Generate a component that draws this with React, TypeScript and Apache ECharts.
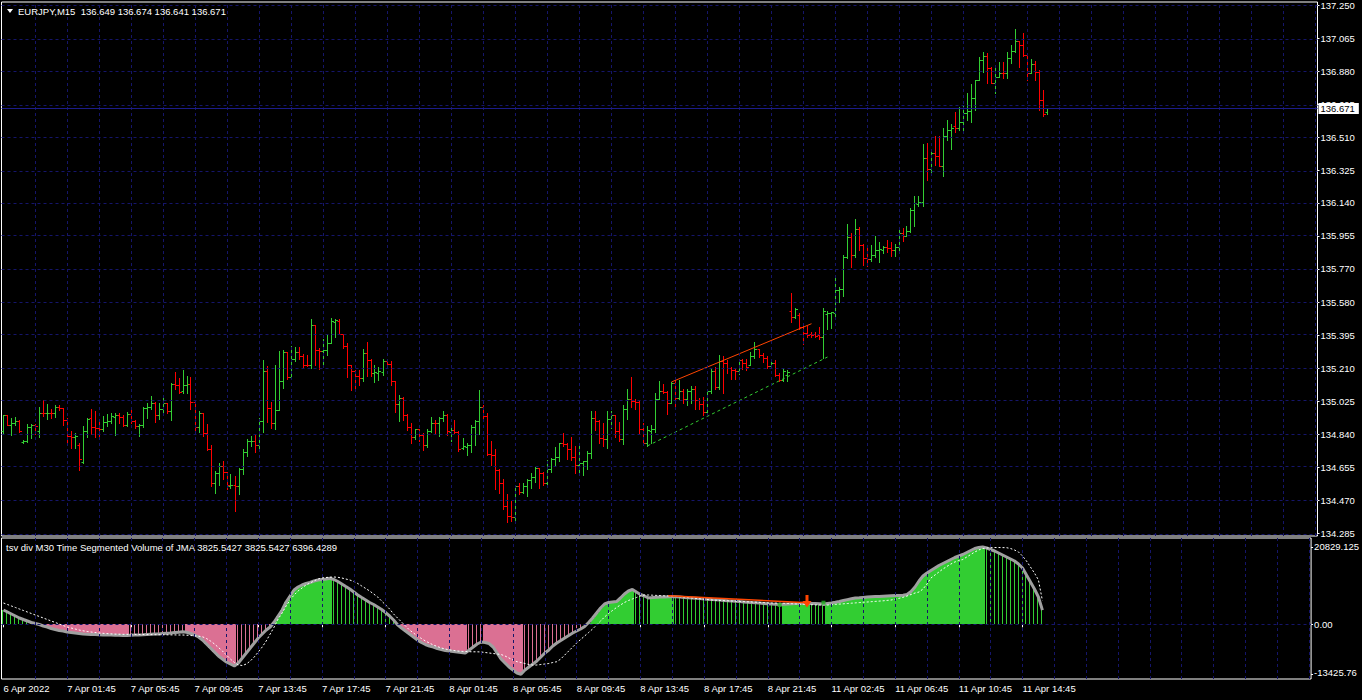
import React, { useEffect, useRef } from "react";
import * as echarts from "echarts";

// ---- data: EURJPY M15 bars [open, high, low, close] ----
const ohlc: number[][] = [
  [134.858,134.948,134.851,134.948],[134.948,134.948,134.892,134.895],[134.895,134.933,134.839,134.907],[134.903,134.936,134.892,134.918],[134.918,134.922,134.854,134.862],
  [134.798,134.809,134.794,134.804],[134.806,134.897,134.798,134.880],[134.880,134.899,134.821,134.892],[134.895,134.899,134.843,134.888],[134.862,134.996,134.824,134.963],
  [134.963,135.032,134.944,134.959],[134.959,135.009,134.929,134.963],[134.963,134.981,134.933,134.959],[134.959,135.004,134.940,134.996],[134.996,135.007,134.978,134.989],
  [134.989,134.989,134.892,134.920],[134.920,134.933,134.794,134.832],[134.832,134.858,134.765,134.824],[134.824,134.847,134.765,134.832],[134.783,134.794,134.641,134.705],
  [134.686,134.888,134.682,134.858],[134.858,134.935,134.828,134.929],[134.933,134.981,134.841,134.880],[134.880,134.970,134.826,134.877],[134.877,134.925,134.832,134.869],
  [134.869,134.944,134.862,134.910],[134.910,134.953,134.888,134.914],[134.914,134.963,134.903,134.944],[134.940,134.959,134.836,134.948],[134.948,134.963,134.903,134.940],
  [134.940,134.951,134.888,134.892],[134.895,134.966,134.888,134.955],[134.955,134.993,134.907,134.918],[134.918,134.922,134.877,134.888],[134.888,134.899,134.832,134.895],
  [134.895,134.996,134.884,134.989],[134.989,135.019,134.933,134.993],[134.993,135.056,134.981,135.015],[135.015,135.022,134.910,134.948],[134.948,135.015,134.929,134.985],
  [134.985,135.050,134.963,135.015],[135.015,135.019,134.963,134.970],[134.970,135.127,134.922,135.123],[135.123,135.191,135.093,135.120],[135.120,135.157,135.071,135.079],
  [135.082,135.202,135.071,135.120],[135.120,135.168,135.071,135.123],[135.123,135.164,134.981,135.022],[135.022,135.028,134.841,134.884],[134.884,134.970,134.854,134.963],
  [134.963,134.963,134.832,134.847],[134.847,134.897,134.753,134.757],[134.757,134.779,134.552,134.570],[134.570,134.634,134.510,134.626],[134.626,134.679,134.559,134.664],
  [134.664,134.690,134.589,134.630],[134.630,134.630,134.533,134.555],[134.548,134.619,134.540,134.559],[134.559,134.608,134.410,134.548],[134.548,134.652,134.507,134.645],
  [134.645,134.761,134.619,134.742],[134.742,134.817,134.720,134.802],[134.802,134.832,134.776,134.806],[134.806,134.839,134.742,134.779],[134.779,134.933,134.757,134.914],
  [134.914,135.258,134.854,135.194],[135.194,135.224,134.910,134.989],[134.989,135.022,134.877,134.903],[134.903,135.232,134.869,134.978],[134.978,135.308,134.978,135.138],
  [135.138,135.314,135.101,135.303],[135.303,135.303,135.153,135.161],[135.161,135.336,135.150,135.265],[135.265,135.329,135.254,135.303],[135.303,135.329,135.265,135.280],
  [135.280,135.292,135.213,135.232],[135.232,135.284,135.224,135.228],[135.232,135.486,135.213,135.452],[135.452,135.452,135.232,135.314],[135.314,135.325,135.206,135.310],
  [135.310,135.378,135.228,135.314],[135.314,135.407,135.284,135.355],[135.355,135.493,135.355,135.475],[135.471,135.490,135.389,135.482],[135.478,135.490,135.404,135.407],
  [135.407,135.407,135.325,135.336],[135.336,135.351,135.164,135.228],[135.228,135.228,135.090,135.196],[135.196,135.202,135.097,135.168],[135.168,135.202,135.120,135.157],
  [135.157,135.318,135.142,135.299],[135.299,135.359,135.168,135.258],[135.258,135.265,135.168,135.187],[135.183,135.232,135.135,135.191],[135.187,135.217,135.146,135.194],
  [135.191,135.265,135.172,135.250],[135.250,135.254,135.224,135.235],[135.235,135.250,135.120,135.138],[135.138,135.142,134.966,135.011],[135.011,135.060,134.918,135.045],
  [135.045,135.049,134.922,134.948],[134.948,134.953,134.865,134.880],[134.880,134.903,134.791,134.824],[134.824,134.873,134.817,134.869],[134.869,134.873,134.806,134.836],
  [134.836,134.851,134.753,134.783],[134.783,134.869,134.772,134.862],[134.862,134.936,134.854,134.907],[134.907,134.922,134.847,134.903],[134.903,134.936,134.832,134.933],
  [134.933,134.974,134.918,134.948],[134.948,134.955,134.839,134.858],[134.854,134.888,134.806,134.865],[134.865,134.922,134.851,134.854],[134.854,134.862,134.750,134.761],
  [134.765,134.821,134.761,134.776],[134.772,134.794,134.723,134.783],[134.779,134.892,134.742,134.880],[134.880,134.922,134.779,134.914],[134.914,135.090,134.843,134.996],
  [134.996,135.007,134.914,134.944],[134.944,134.963,134.727,134.731],[134.731,134.806,134.667,134.727],[134.727,134.757,134.533,134.641],[134.641,134.645,134.510,134.570],
  [134.570,134.589,134.424,134.439],[134.439,134.503,134.346,134.380],[134.380,134.466,134.353,134.376],[134.376,134.555,134.350,134.548],[134.548,134.566,134.503,134.518],
  [134.518,134.566,134.510,134.552],[134.552,134.589,134.492,134.585],[134.585,134.623,134.537,134.600],[134.600,134.660,134.574,134.652],[134.652,134.652,134.540,134.626],
  [134.626,134.630,134.559,134.566],[134.566,134.694,134.563,134.645],[134.645,134.709,134.630,134.701],[134.701,134.768,134.664,134.716],[134.716,134.794,134.690,134.791],
  [134.791,134.851,134.776,134.787],[134.787,134.794,134.701,134.761],[134.761,134.824,134.697,134.716],[134.716,134.776,134.626,134.671],[134.667,134.791,134.611,134.682],
  [134.682,134.690,134.611,134.690],[134.690,134.746,134.645,134.735],[134.735,134.974,134.709,134.933],[134.933,134.974,134.865,134.914],[134.914,134.922,134.791,134.821],
  [134.821,134.903,134.776,134.813],[134.813,134.974,134.765,134.929],[134.929,134.970,134.877,134.951],[134.951,134.951,134.828,134.862],[134.862,134.910,134.806,134.817],
  [134.817,135.007,134.787,134.981],[134.981,135.093,134.925,135.037],[135.037,135.161,134.996,135.030],[135.030,135.041,134.981,135.022],[135.022,135.026,134.851,134.873],
  [134.873,134.907,134.783,134.794],[134.794,134.888,134.776,134.865],[134.862,134.892,134.794,134.873],[134.873,135.075,134.854,135.041],[135.041,135.138,135.037,135.082],
  [135.082,135.123,135.071,135.079],[135.079,135.082,134.955,135.019],[135.019,135.135,135.019,135.127],[135.127,135.146,134.993,135.045],[135.045,135.146,135.041,135.086],
  [135.086,135.093,135.019,135.037],[135.037,135.093,135.004,135.086],[135.086,135.112,135.019,135.097],[135.097,135.112,134.981,135.034],[135.034,135.045,134.981,135.011],
  [135.011,135.049,134.951,134.966],[134.966,135.093,134.959,135.082],[135.082,135.206,135.071,135.194],[135.194,135.221,135.093,135.105],[135.105,135.284,135.097,135.254],
  [135.254,135.280,135.075,135.243],[135.243,135.258,135.187,135.213],[135.213,135.217,135.150,135.202],[135.202,135.213,135.150,135.194],[135.194,135.265,135.179,135.258],
  [135.258,135.265,135.206,135.239],[135.239,135.265,135.202,135.217],[135.232,135.303,135.228,135.280],[135.280,135.362,135.269,135.318],[135.318,135.318,135.277,135.284],
  [135.284,135.299,135.247,135.269],[135.269,135.280,135.213,135.224],[135.224,135.250,135.217,135.239],[135.239,135.258,135.168,135.176],[135.176,135.187,135.138,135.146],
  [135.146,135.209,135.138,135.194],[135.176,135.202,135.138,135.191],[135.531,135.632,135.471,135.501],[135.501,135.553,135.493,135.542],[135.512,135.520,135.430,135.445],
  [135.445,135.467,135.348,135.411],[135.411,135.448,135.389,135.396],[135.407,135.415,135.389,135.396],[135.404,135.415,135.385,135.392],[135.396,135.445,135.374,135.389],
  [135.389,135.553,135.269,135.531],[135.516,135.534,135.434,135.523],[135.520,135.527,135.437,135.527],[135.523,135.725,135.508,135.650],[135.650,135.669,135.583,135.658],
  [135.658,135.848,135.617,135.837],[135.837,136.024,135.833,135.949],[135.949,135.972,135.781,135.848],[135.848,136.050,135.837,135.994],[135.994,136.005,135.878,135.904],
  [135.904,135.912,135.789,135.830],[135.830,135.901,135.785,135.826],[135.826,135.904,135.815,135.848],[135.848,135.957,135.837,135.878],[135.878,135.923,135.811,135.882],
  [135.875,135.901,135.860,135.890],[135.890,135.934,135.863,135.886],[135.886,135.919,135.841,135.878],[135.878,135.912,135.841,135.890],[135.890,135.990,135.878,135.972],
  [135.972,136.002,135.927,135.957],[135.957,136.009,135.953,135.983],[135.983,136.110,135.979,136.103],[136.103,136.177,136.009,136.140],[136.136,136.177,136.121,136.144],
  [136.144,136.469,136.121,136.394],[136.394,136.476,136.271,136.331],[136.331,136.439,136.316,136.420],[136.420,136.517,136.353,136.402],[136.402,136.514,136.345,136.349],
  [136.349,136.562,136.289,136.514],[136.514,136.607,136.495,136.551],[136.551,136.581,136.443,136.562],[136.570,136.652,136.536,136.559],[136.562,136.678,136.551,136.596],
  [136.596,136.682,136.551,136.648],[136.648,136.760,136.607,136.659],[136.659,136.809,136.592,136.727],[136.727,136.831,136.663,136.828],[136.828,136.962,136.828,136.943],
  [136.943,136.988,136.876,136.966],[136.966,136.981,136.813,136.899],[136.899,136.902,136.813,136.816],[136.816,136.899,136.757,136.850],[136.850,136.932,136.846,136.872],
  [136.872,136.932,136.839,136.869],[136.869,136.988,136.839,136.955],[136.955,137.029,136.925,136.992],[136.992,137.115,136.988,137.048],[137.048,137.052,136.906,137.026],
  [137.026,137.093,136.966,136.970],[136.970,136.970,136.831,136.869],[136.869,136.947,136.869,136.921],[136.921,136.936,136.831,136.876],[136.876,136.887,136.663,136.719],
  [136.719,136.775,136.630,136.641],[136.649,136.674,136.641,136.671],
];

// ---- Time Segmented Volume (gray line / histogram) ----
const tsv: number[] = [
  3847,3309,2771,2233,1695,1291,888,484,215,-54,
  -457,-726,-1130,-1399,-1668,-1802,-2071,-2206,-2340,-2475,
  -2609,-2663,-2744,-2771,-2825,-2851,-2878,-2905,-2932,-2959,
  -2986,-3013,-2959,-2905,-2851,-2798,-2744,-2690,-2636,-2582,
  -2502,-2421,-2340,-2233,-2125,-2018,-2152,-2475,-2878,-3416,
  -4223,-5299,-6375,-7451,-8527,-9334,-10141,-10679,-11217,-10410,
  -9065,-7720,-6375,-5030,-3685,-2609,-1533,-726,619,2233,
  3847,5999,7613,9227,10034,10572,10975,11244,11648,11917,
  12051,12186,12374,12051,11513,10841,10168,9496,8689,7882,
  7209,6537,5864,5326,4654,3981,3174,2233,1157,-135,
  -995,-1802,-2609,-3416,-4223,-4896,-5434,-5837,-6106,-6510,
  -6779,-7048,-7182,-7317,-7451,-7586,-7720,-6913,-6106,-5299,
  -4761,-4896,-5165,-6106,-7720,-9334,-10410,-11486,-12293,-13100,
  -13425.76,-12293,-11486,-10679,-9872,-8796,-7720,-6913,-5837,-5030,
  -4358,-3685,-3013,-2340,-1802,-1264,-592,484,1695,3040,
  4385,5461,5864,5999,6133,7075,8151,8958,9361,8689,
  8016,7613,7100,7180,7263,7317,7371,7424,7478,7398,
  7317,7236,7155,7075,6994,6913,6833,6752,6671,6591,
  6510,6429,6348,6268,6187,6106,6026,5945,5864,5784,
  5703,5622,5541,5461,5407,5353,5407,5461,5515,5568,
  5622,5649,5676,5622,5568,5515,5461,5595,5730,5918,
  6133,6402,6644,6860,7075,7155,7236,7317,7398,7451,
  7505,7559,7613,7667,7720,7774,7828,8016,8823,10034,
  11648,12993,13800,14472,15145,15817,16355,16893,17431,17969,
  18373,18776,19314,19852,20390,20659,20829.125,20525,20121,19718,
  19180,18642,18104,17566,17028,16221,15145,13262,11379,9496,
  7344,3825.5427,
];

// ---- signal line (white dashed) ----
const signal: number[] = [
  5730,5326,4923,4519,4116,3712,3309,2905,2502,2098,
  1695,1291,888,484,81,-323,-726,-995,-1264,-1533,
  -1749,-1937,-2071,-2206,-2340,-2421,-2502,-2582,-2636,-2663,
  -2690,-2690,-2690,-2717,-2744,-2744,-2771,-2771,-2798,-2798,
  -2825,-2825,-2851,-2851,-2878,-2878,-2932,-3013,-3094,-3201,
  -3363,-3820,-4492,-5299,-6241,-7182,-8258,-9334,-10276,-10948,
  -11083,-10679,-9872,-8796,-7451,-6106,-4492,-2609,-726,1426,
  3040,4923,6537,7882,8958,9765,10572,11110,11648,12186,
  12455,12589,12670,12724,12643,12455,12186,11917,11513,10975,
  10303,9630,8958,8151,7344,6268,5192,4116,2771,1695,
  619,-457,-1533,-2340,-3147,-3820,-4492,-5030,-5568,-5972,
  -6375,-6644,-6860,-7021,-7182,-7263,-7317,-7371,-7398,-7398,
  -7451,-7586,-7720,-7855,-7989,-8124,-8527,-9065,-9603,-10061,
  -10276,-10545,-10814,-10948,-10948,-10814,-10679,-10545,-10276,-10061,
  -9334,-8258,-7182,-6106,-5030,-4089,-3147,-2206,-1264,-188,
  888,1964,2905,3712,4519,5192,5864,6402,6806,7209,
  7613,7882,7882,7828,7774,7720,7667,7613,7559,7478,
  7398,7290,7182,7075,6967,6860,6752,6644,6537,6483,
  6429,6375,6322,6268,6214,6160,6106,6053,5999,5945,
  5891,5837,5784,5730,5703,5676,5649,5595,5541,5488,
  5434,5380,5326,5272,5219,5192,5192,5192,5272,5353,
  5434,5515,5595,5676,5757,5837,5918,5999,6079,6160,
  6241,6322,6429,6537,6752,6994,7263,7613,8016,8420,
  8689,9496,10841,12455,13262,14069,14876,15548,16221,16759,
  17162,17431,18104,18776,19449,19987,20390,20525,20605,20659,
  20659,20632,20605,20390,19987,19449,18373,17028,15414,13800,
  11917,6396.4289,
];

const priceTickLabels = ["137.250","137.065","136.880","136.695","136.510","136.325","136.140","135.955","135.770","135.580","135.395","135.210","135.025","134.840","134.655","134.470","134.285"];
const indTickValues = [20829.125, 0, -13425.76];
const indTickLabels = ["20829.125", "0.00", "-13425.76"];
const timeTickIdx = [0,16,32,48,64,80,96,112,128,144,160,176,192,208,224,240,256];
const timeTickLabels = ["6 Apr 2022","7 Apr 01:45","7 Apr 05:45","7 Apr 09:45","7 Apr 13:45","7 Apr 17:45","7 Apr 21:45","8 Apr 01:45","8 Apr 05:45","8 Apr 09:45","8 Apr 13:45","8 Apr 17:45","8 Apr 21:45","11 Apr 02:45","11 Apr 06:45","11 Apr 10:45","11 Apr 14:45"];

const resistanceIdx = [167, 202];
const resistancePrice = [135.135, 135.462];
const supportIdx = [161, 206];
const supportPrice = [134.776, 135.275];
const divIdx = [167, 202];
const divVal = [7650, 5800];
const arrowPoint = [202, 6268];
const dotPoints = [[195, 5192], [206, 5810]];

// ---- styling / layout ----
const UP = "#32cd32";
const DOWN = "#ff0000";
const PINK = "#db7093";
const GRIDC = "#15156a";
const PRICE_LINE = "#1c1c88";
const FONT = '"Liberation Sans", Arial, sans-serif';
const FS = 9.5;
const SLOTS = 329;
const LEFT = 1.5;
const WIDTH = SLOTS * 4;

export default function App() {
  const ref = useRef<HTMLDivElement>(null);
  useEffect(() => {
    if (!ref.current) return;
    const chart = echarts.init(ref.current, null, { renderer: "svg" });
    const cats = Array.from({ length: SLOTS }, (_, i) => String(i));
    const priceTickValues = priceTickLabels.map(Number);
    const tickSet = new Set(timeTickIdx);
    const vGrid: number[] = [];
    for (let i = 8; i < SLOTS; i += 8) vGrid.push(i);
    const last = ohlc[ohlc.length - 1];
    const lastClose = last[3];
    const mainTitle = `EURJPY,M15  ${last.map((v) => v.toFixed(3)).join(" ")}`;
    const tl = tsv[tsv.length - 1];
    const sl = signal[signal.length - 1];
    const indTitle = `tsv div M30 Time Segmented Volume of JMA ${tl.toFixed(4)} ${tl.toFixed(4)} ${sl.toFixed(4)}`;

    const histData = tsv.map((v, i) => {
      const prev = i > 0 ? tsv[i - 1] : v;
      const solid = i > 0 && (Math.sign(v) !== Math.sign(prev) || Math.abs(v) > Math.abs(prev)) ? 1 : 0;
      return [i, v, solid];
    });

    const txt = { color: "#ffffff", fontSize: FS, fontFamily: FONT };

    const option: any = {
      animation: false,
      backgroundColor: "#000000",
      grid: [
        { left: LEFT, top: 2, width: WIDTH, height: 534, show: true, borderColor: "#ffffff", borderWidth: 1, backgroundColor: "transparent" },
        { left: LEFT, top: 538, width: WIDTH, height: 141, show: true, borderColor: "#ffffff", borderWidth: 1, backgroundColor: "transparent" },
      ],
      xAxis: [
        { type: "category", gridIndex: 0, data: cats, boundaryGap: true, show: false },
        {
          type: "category", gridIndex: 1, data: cats, boundaryGap: true,
          axisLine: { show: false },
          axisTick: { show: true, alignWithLabel: true, length: 3, interval: (i: number) => tickSet.has(i), lineStyle: { color: "#ffffff" } },
          axisLabel: {
            ...txt, align: "left", margin: 4,
            interval: (i: number) => tickSet.has(i),
            formatter: (_v: string, i: number) => timeTickLabels[timeTickIdx.indexOf(i)] ?? "",
          },
          splitLine: { show: false },
        },
      ],
      yAxis: [
        {
          type: "value", gridIndex: 0, position: "right", min: 134.2699, max: 137.2685,
          axisLine: { show: false }, splitLine: { show: false },
          axisTick: { show: true, customValues: priceTickValues, length: 2, lineStyle: { color: "#ffffff" } },
          axisLabel: {
            ...txt, margin: 3, customValues: priceTickValues,
            formatter: (v: number) => {
              const k = priceTickValues.findIndex((p) => Math.abs(p - v) < 1e-6);
              return k >= 0 ? priceTickLabels[k] : "";
            },
          },
        },
        {
          type: "value", gridIndex: 1, position: "right", min: -14714, max: 23215,
          axisLine: { show: false }, splitLine: { show: false },
          axisTick: { show: true, customValues: indTickValues, length: 2, lineStyle: { color: "#ffffff" } },
          axisLabel: {
            ...txt, margin: 3, customValues: indTickValues,
            formatter: (v: number) => {
              const k = indTickValues.findIndex((p) => Math.abs(p - v) < 1e-6);
              if (k < 0) return "";
              return k === indTickValues.length - 1 ? `{lo|${indTickLabels[k]}}` : indTickLabels[k];
            },
            rich: { lo: { ...txt, padding: [0, 0, 3, 0] } },
          },
        },
      ],
      series: [
        {
          type: "line", xAxisIndex: 0, yAxisIndex: 0, data: [], silent: true, z: 1,
          markLine: {
            silent: true, symbol: ["none", "none"], label: { show: false },
            lineStyle: { color: GRIDC, type: [3, 3], width: 1 },
            data: [...priceTickValues.map((v) => ({ yAxis: v })), ...vGrid.map((i) => ({ xAxis: i }))],
          },
        },
        {
          type: "custom", xAxisIndex: 0, yAxisIndex: 0, z: 3, silent: true,
          data: ohlc.map((b, i) => [i, b[0], b[1], b[2], b[3]]),
          encode: { x: 0, y: [1, 2, 3, 4] },
          renderItem: (_p: any, api: any) => {
            const i = api.value(0);
            const o = api.value(1), h = api.value(2), l = api.value(3), c = api.value(4);
            const pH = api.coord([i, h]);
            const yL = api.coord([i, l])[1];
            const yO = api.coord([i, o])[1];
            const yC = api.coord([i, c])[1];
            const cx = Math.floor(pH[0] - 0.5) + 0.5;
            const color = c >= o ? UP : DOWN;
            const st = { stroke: color, lineWidth: 1 };
            const r = (y: number) => Math.round(y) + 0.5;
            return {
              type: "group",
              children: [
                { type: "line", shape: { x1: cx, y1: Math.round(pH[1]), x2: cx, y2: Math.round(yL) + 1 }, style: st },
                { type: "line", shape: { x1: cx - 2, y1: r(yO), x2: cx, y2: r(yO) }, style: st },
                { type: "line", shape: { x1: cx, y1: r(yC), x2: cx + 2.5, y2: r(yC) }, style: st },
              ],
            };
          },
        },
        {
          type: "line", xAxisIndex: 0, yAxisIndex: 0, z: 4, silent: true, symbol: "none",
          data: resistanceIdx.map((x, k) => [x, resistancePrice[k]]),
          lineStyle: { color: "#ff4500", width: 1 },
        },
        {
          type: "line", xAxisIndex: 0, yAxisIndex: 0, z: 4, silent: true, symbol: "none",
          data: supportIdx.map((x, k) => [x, supportPrice[k]]),
          lineStyle: { color: UP, width: 1, type: [3, 3] },
        },
        {
          type: "line", xAxisIndex: 0, yAxisIndex: 0, data: [], silent: true, z: 5,
          markLine: {
            silent: true, symbol: ["none", "none"],
            lineStyle: { color: PRICE_LINE, type: "solid", width: 1 },
            label: {
              show: true, position: "end", distance: 1, formatter: lastClose.toFixed(3),
              backgroundColor: "#ffffff", color: "#000000", fontSize: FS, fontFamily: FONT, padding: [1, 4, 0, 2],
            },
            data: [{ yAxis: lastClose }],
          },
        },
        // ---- indicator window ----
        {
          type: "line", xAxisIndex: 1, yAxisIndex: 1, data: [], silent: true, z: 1,
          markLine: {
            silent: true, symbol: ["none", "none"], label: { show: false },
            lineStyle: { color: GRIDC, type: [3, 3], width: 1 },
            data: [{ yAxis: 0 }, ...vGrid.map((i) => ({ xAxis: i }))],
          },
        },
        {
          type: "custom", xAxisIndex: 1, yAxisIndex: 1, z: 2, silent: true,
          data: histData, encode: { x: 0, y: 1 },
          renderItem: (_p: any, api: any) => {
            const i = api.value(0), v = api.value(1), solid = api.value(2);
            const p0 = api.coord([i, 0]);
            const p1 = api.coord([i, v]);
            const xc = Math.floor(p0[0] - 0.5);
            const y0 = Math.round(p0[1]), y1 = Math.round(p1[1]);
            return {
              type: "rect",
              shape: { x: solid ? xc - 1 : xc, y: Math.min(y0, y1), width: solid ? 4 : 1, height: Math.max(1, Math.abs(y1 - y0)) },
              style: { fill: v >= 0 ? UP : PINK },
            };
          },
        },
        {
          type: "line", xAxisIndex: 1, yAxisIndex: 1, z: 3, silent: true, symbol: "none",
          data: tsv, lineStyle: { color: "#a0a0a0", width: 3 },
        },
        {
          type: "line", xAxisIndex: 1, yAxisIndex: 1, z: 4, silent: true, symbol: "none",
          data: signal, lineStyle: { color: "#ffffff", width: 1, type: [2, 2] },
        },
        {
          type: "line", xAxisIndex: 1, yAxisIndex: 1, z: 5, silent: true, symbol: "none",
          data: divIdx.map((x, k) => [x, divVal[k]]), lineStyle: { color: "#ff4500", width: 1.5 },
        },
        {
          type: "scatter", xAxisIndex: 1, yAxisIndex: 1, z: 6, silent: true,
          data: dotPoints, symbol: "rect", symbolSize: 4, itemStyle: { color: "#22b022" },
        },
        {
          type: "custom", xAxisIndex: 1, yAxisIndex: 1, z: 7, silent: true,
          data: [arrowPoint], encode: { x: 0, y: 1 },
          renderItem: (_p: any, api: any) => {
            const [x, y] = api.coord([api.value(0), api.value(1)]);
            const cx = Math.round(x) - 1;
            return {
              type: "polygon",
              shape: {
                points: [
                  [cx - 1.5, y - 6], [cx + 1.5, y - 6], [cx + 1.5, y], [cx + 4.5, y],
                  [cx, y + 6.5], [cx - 4.5, y], [cx - 1.5, y],
                ],
              },
              style: { fill: "#ff4500" },
            };
          },
        },
      ],
      graphic: [
        { type: "polygon", shape: { points: [[7, 9], [13, 9], [10, 13]] }, style: { fill: "#ffffff" }, z: 10 },
        { type: "text", x: 18, y: 11, z: 10, style: { text: mainTitle, fill: "#ffffff", font: `${FS}px ${FONT}`, verticalAlign: "middle" } },
        { type: "text", x: 6, y: 547, z: 10, style: { text: indTitle, fill: "#ffffff", font: `${FS}px ${FONT}`, verticalAlign: "middle" } },
      ],
    };
    chart.setOption(option);
    return () => chart.dispose();
  }, []);
  return <div ref={ref} style={{ position: "fixed", left: 0, top: 0, width: 1362, height: 700, background: "#000" }} />;
}
